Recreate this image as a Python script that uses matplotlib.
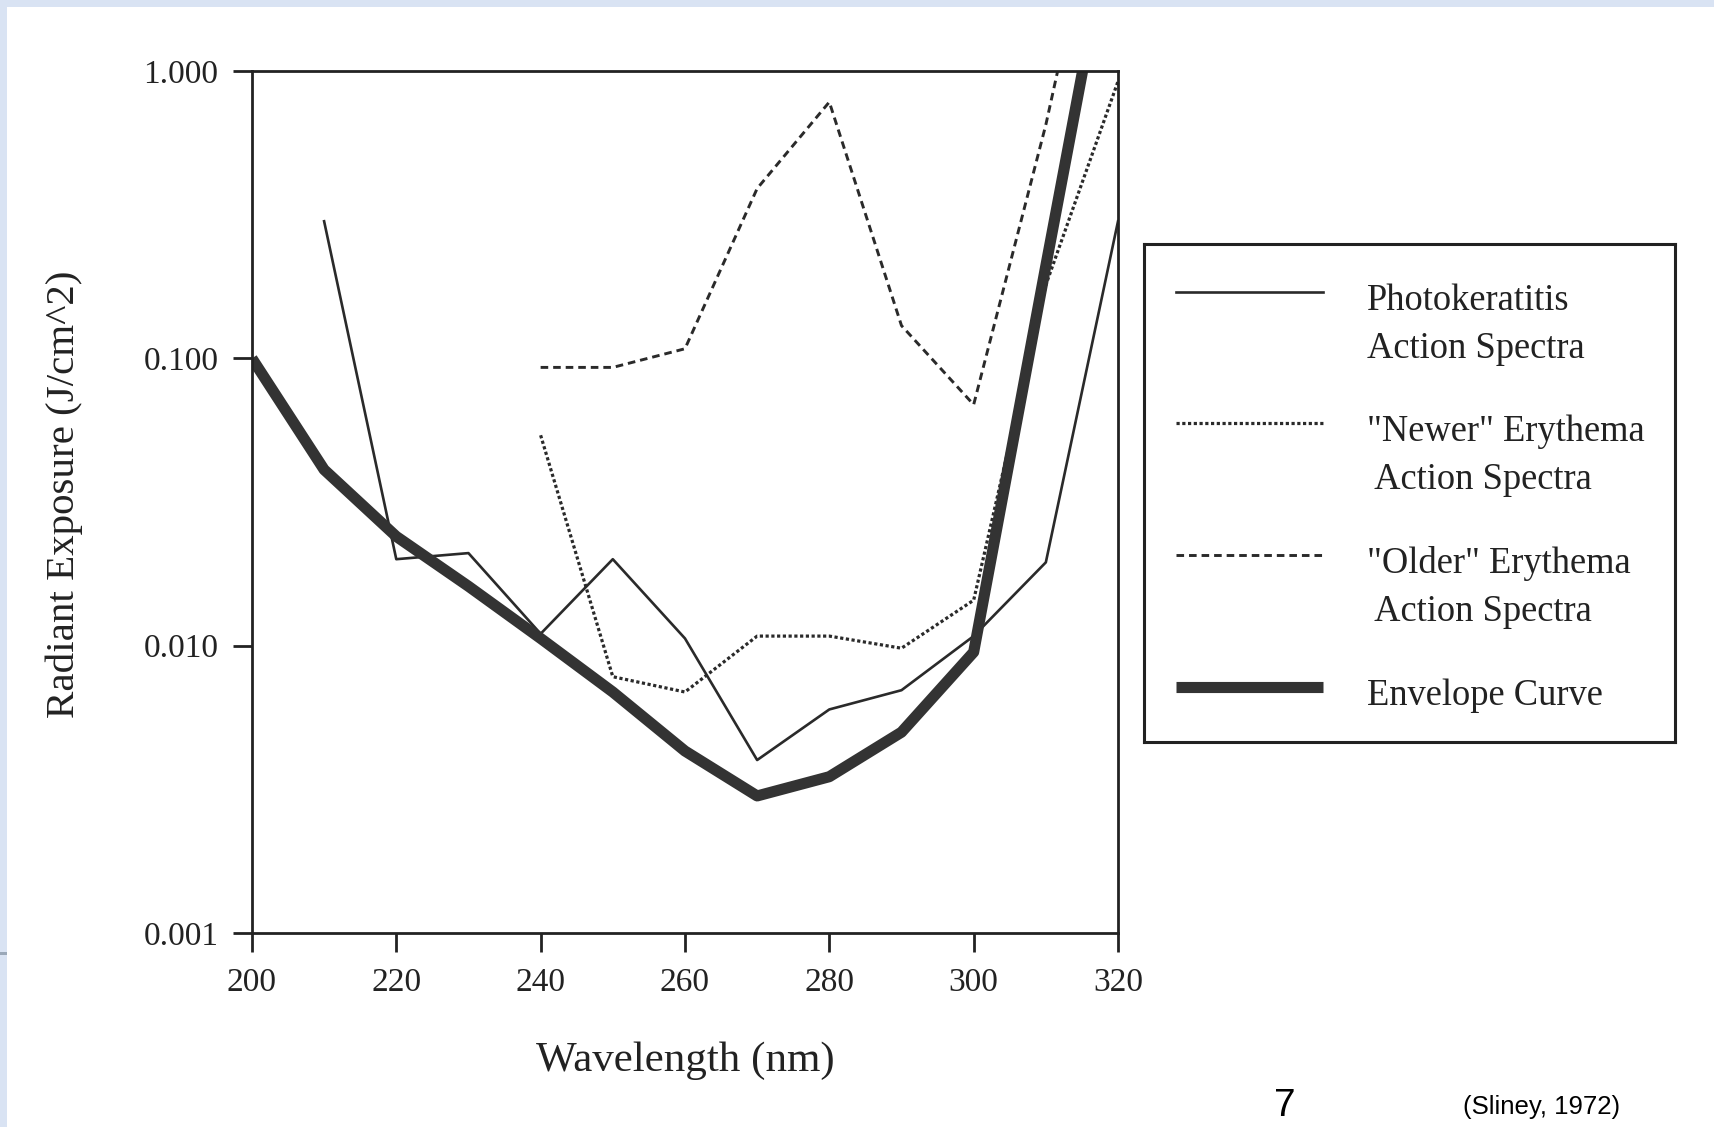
import matplotlib
matplotlib.use("Agg")
import matplotlib.pyplot as plt
from matplotlib.patches import Rectangle
from matplotlib.ticker import FixedLocator, FuncFormatter

# Wavelength (nm) and radiant exposure (J/cm^2)
wl_photo = [210, 220, 230, 240, 250, 260, 270, 280, 290, 300, 310, 320]
photo = [0.30, 0.020, 0.021, 0.011, 0.020, 0.0106, 0.0040, 0.0060, 0.0070,
         0.0108, 0.0195, 0.30]

wl_newer = [240, 250, 260, 270, 280, 290, 300, 310, 320]
newer = [0.054, 0.0078, 0.0069, 0.0108, 0.0108, 0.0098, 0.0144, 0.18, 0.92]

wl_older = [240, 250, 260, 270, 280, 290, 300, 310, 320]
older = [0.093, 0.093, 0.108, 0.39, 0.78, 0.13, 0.069, 0.65, 9.0]

wl_env = [200, 210, 220, 230, 240, 250, 260, 270, 280, 290, 300, 310, 320]
envelope = [0.100, 0.041, 0.024, 0.0161, 0.0106, 0.0069, 0.0043, 0.0030,
            0.0035, 0.0050, 0.0095, 0.21, 4.5]

x_ticks = [200, 220, 240, 260, 280, 300, 320]
y_ticks = [0.001, 0.010, 0.100, 1.000]

labels = ["Photokeratitis\nAction Spectra",
          "\"Newer\" Erythema\n Action Spectra",
          "\"Older\" Erythema\n Action Spectra",
          "Envelope Curve"]

INK = "#2a2a2a"
SERIF = "Liberation Serif"
SANS = "Liberation Sans"

styles = [
    dict(color=INK, lw=1.9, linestyle="-"),
    dict(color=INK, lw=2.3, linestyle=(0, (1, 0.8))),
    dict(color=INK, lw=2.1, linestyle=(0, (2.6, 1.7))),
    dict(color="#333333", lw=8, linestyle="-", solid_capstyle="butt",
         solid_joinstyle="round"),
]

fig = plt.figure(figsize=(17.15, 11.27), dpi=100)
fig.patch.set_facecolor("white")

# slide border bands
fig.patches.append(Rectangle((0, 1 - 7 / 1127), 1, 7 / 1127, transform=fig.transFigure,
                             facecolor="#d9e3f3", edgecolor="none", zorder=0))
fig.patches.append(Rectangle((0, 0), 7 / 1715, 1, transform=fig.transFigure,
                             facecolor="#d9e3f3", edgecolor="none", zorder=0))
fig.patches.append(Rectangle((0, 1 - 955 / 1127), 7 / 1715, 3 / 1127,
                             transform=fig.transFigure, facecolor="#9aa8b8",
                             edgecolor="none", zorder=1))

ax = fig.add_axes([0.1469, 0.1721, 0.505, 0.7649])
series = [(wl_photo, photo), (wl_newer, newer), (wl_older, older), (wl_env, envelope)]
for (xs, ys), st in zip(series, styles):
    ax.plot(xs, ys, clip_on=True, **st)

ax.set_yscale("log")
ax.set_xlim(200, 320)
ax.set_ylim(0.001, 1.0)
ax.xaxis.set_major_locator(FixedLocator(x_ticks))
ax.yaxis.set_major_locator(FixedLocator(y_ticks))
ax.yaxis.set_minor_locator(FixedLocator([]))
ax.yaxis.set_major_formatter(FuncFormatter(lambda v, p: "%.3f" % v))
ax.xaxis.set_major_formatter(FuncFormatter(lambda v, p: "%d" % v))

for s in ax.spines.values():
    s.set_linewidth(2.0)
    s.set_color("#222222")
ax.tick_params(axis="both", direction="out", length=14, width=2.0, color="#222222",
               labelsize=24, labelcolor="#222222")
ax.tick_params(axis="y", pad=10)
ax.tick_params(axis="x", pad=11)
for lab in ax.get_xticklabels() + ax.get_yticklabels():
    lab.set_family(SERIF)

ax.set_xlabel("Wavelength (nm)", family=SERIF, fontsize=31, color="#222222")
ax.set_ylabel("Radiant Exposure (J/cm^2)", family=SERIF, fontsize=29.5, color="#222222")
ax.xaxis.label.set_va("center")
ax.yaxis.label.set_va("center")
ax.xaxis.set_label_coords(0.5, -0.1485)
ax.yaxis.set_label_coords(-0.217, 0.509)

# legend box, drawn by hand so each handle sits on the first text line
lg = fig.add_axes([0.667, 0.3416, 0.3096, 0.4419])
lg.set_xlim(0, 1)
lg.set_ylim(0, 1)
lg.set_xticks([])
lg.set_yticks([])
for s in lg.spines.values():
    s.set_linewidth(2.2)
    s.set_color("#222222")
row_y = [0.903, 0.640, 0.376, 0.110]
for y, st, text in zip(row_y, styles, labels):
    lg.plot([0.06, 0.338], [y, y], **st)
    lg.text(0.42, y + 0.017, text, family=SERIF, fontsize=26.3, color="#222222",
            va="top", ha="left", linespacing=1.5)

fig.text(0.749, 1 - 1088 / 1127, "7", family=SANS, fontsize=28, color="black",
         ha="center", va="top")
fig.text(0.853, 0.018, "(Sliney, 1972)", family=SANS, fontsize=18.5, color="black",
         ha="left", va="center")

fig.savefig("out.png", dpi=100)
